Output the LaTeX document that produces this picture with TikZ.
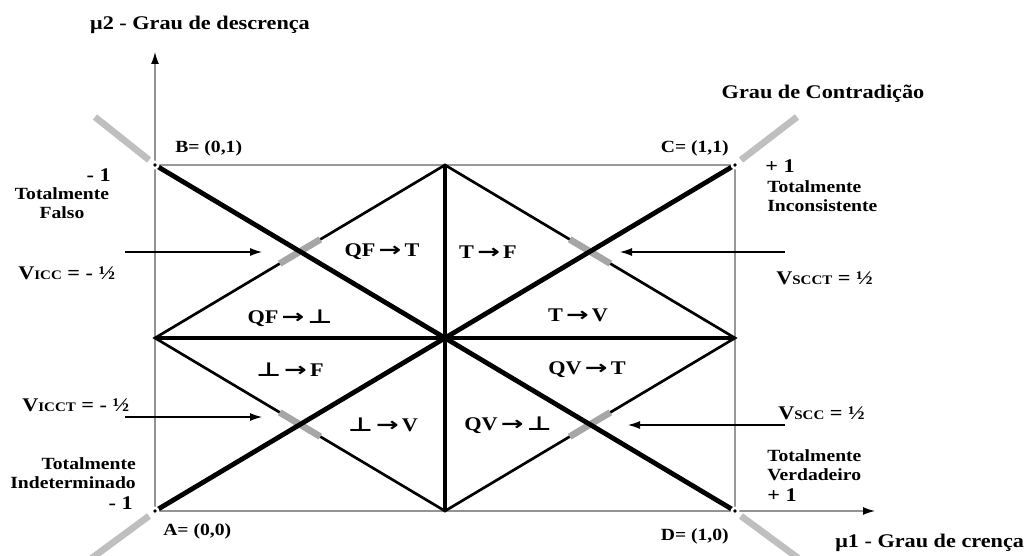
\documentclass[tikz,border=0pt]{standalone}
\usepackage{fontspec}
\setmainfont{Liberation Serif}[FakeStretch=1.15]
\newfontfamily\symf{DejaVu Sans}[FakeStretch=1.4]
\usetikzlibrary{arrows.meta,calc}
\newcommand{\tto}{{\symf\,→\,}}
\newcommand{\tbot}{{\symf ⊥}}
\newcommand{\vlab}[1]{V{\fontsize{9.8}{11}\selectfont #1}}

\begin{document}
\begin{tikzpicture}[x=0.75pt, y=-0.75pt,
    every node/.style={font=\bfseries\fontsize{12.8}{14.5}\selectfont, inner sep=0pt},
    big/.style={font=\bfseries\fontsize{14.5}{16}\selectfont},
    axis/.style={gray!85, line width=1pt, -{Latex[black,length=9pt,width=6pt]}},
    frame/.style={gray!80, line width=0.9pt},
    edge/.style={line width=2pt},
    mid/.style={line width=2.4pt},
    diag/.style={line width=3.6pt},
    greymark/.style={gray!70, line width=5pt},
    ext/.style={gray!50, line width=5pt},
    pointer/.style={line width=0.8pt, -{Latex[length=9pt,width=6pt]}}]
    \useasboundingbox (0,0) rectangle (1031,556);
    % Corners of the square
    \coordinate (A) at (155,511);
    \coordinate (B) at (155,165);
    \coordinate (C) at (735,165);
    \coordinate (D) at (735,511);
    % Diamond vertices and centre
    \coordinate (O) at (445,338);
    \coordinate (L) at (155,338);
    \coordinate (T) at (445,165);
    \coordinate (R) at (735,338);
    \coordinate (Bt) at (445,511);
    % Axes
    \coordinate (yend) at (155,52);
    \coordinate (xend) at (875,511);
    \draw[axis] (A) -- (yend);
    \draw[axis] (A) -- (xend);
    \draw[frame] (B) -- (C) -- (D);
    % Grey extensions at the corners
    \coordinate (Aout) at (92,558);
    \coordinate (Bout) at (95,117);
    \coordinate (Cout) at (797,117);
    \coordinate (Dout) at (798,558);
    \draw[ext] ($(A)+(-6,5)$) -- (Aout);
    \draw[ext] ($(B)+(-6,-5)$) -- (Bout);
    \draw[ext] ($(C)+(6,-5)$) -- (Cout);
    \draw[ext] ($(D)+(6,5)$) -- (Dout);
    % Diamond
    \draw[edge, line join=miter] (L) -- (T) -- (R) -- (Bt) -- cycle;
    \draw[mid] (L) -- (R);
    \draw[mid] (T) -- (Bt);
    % Grey marks on the diamond edges
    \foreach \p/\q in {L/T, T/R, L/Bt, Bt/R}
        \draw[greymark] ($(\p)!0.43!(\q)$) -- ($(\p)!0.57!(\q)$);
    % Diagonals
    \draw[diag] (A) -- (C);
    \draw[diag] (B) -- (D);
    % Corner dots
    \foreach \c in {A,B,C,D} {
        \fill[white] (\c) circle (4.5);
        \fill (\c) circle (1.8);
    }
    % Pointers
    \coordinate (p1s) at (125,252); \coordinate (p1e) at (262,252);
    \coordinate (p2s) at (125,417); \coordinate (p2e) at (262,417);
    \coordinate (p3s) at (785,252); \coordinate (p3e) at (620,252);
    \coordinate (p4s) at (785,425); \coordinate (p4e) at (628,425);
    \foreach \i in {1,...,4}
        \draw[pointer] (p\i s) -- (p\i e);
    % Axis titles
    \node[big] (tmu2) at (200,25) {μ2 - Grau de descrença};
    \node[big] (tcon) at (823,94) {Grau de Contradição};
    \node[big, anchor=west] (tmu1) at (835,543) {μ1 - Grau de crença};
    % Corner labels
    \node[anchor=west] (lB) at (175,148) {B= (0,1)};
    \node[anchor=east] (lC) at (729,148) {C= (1,1)};
    \node[anchor=west] (lA) at (163,531) {A= (0,0)};
    \node[anchor=east] (lD) at (729,536) {D= (1,0)};
    % Extreme states
    \node[big, anchor=east] (mFa) at (111,175) {- 1};
    \node[align=center] (tFa) at (62,203) {Totalmente\\Falso};
    \node[big, anchor=west] (pIn) at (765,166) {+ 1};
    \node[align=left, anchor=west] (tIn) at (767,196) {Totalmente\\Inconsistente};
    \node[align=right, anchor=east] (tId) at (136,473) {Totalmente\\Indeterminado};
    \node[big, anchor=east] (mId) at (133,503) {- 1};
    \node[align=left, anchor=west] (tVe) at (767,465) {Totalmente\\Verdadeiro};
    \node[big, anchor=west] (pVe) at (767,495) {+ 1};
    % Limit values
    \node[big, anchor=west] (vicc) at (18,273) {\vlab{ICC} = - ½};
    \node[big, anchor=west] (vicct) at (22,405) {\vlab{ICCT} = - ½};
    \node[big, anchor=west] (vscct) at (776,278) {\vlab{SCCT} = ½};
    \node[big, anchor=west] (vscc) at (778,413) {\vlab{SCC} = ½};
    % Regions
    \node[big] (r1) at (382,252) {QF\tto T};
    \node[big] (r2) at (488,252) {T\tto F};
    \node[big] (r3) at (290,318) {QF\tto\tbot};
    \node[big] (r4) at (578,315) {T\tto V};
    \node[big] (r5) at (290,370) {\tbot\tto F};
    \node[big] (r6) at (587,370) {QV\tto T};
    \node[big] (r7) at (383,425) {\tbot\tto V};
    \node[big] (r8) at (508,425) {QV\tto\tbot};
\end{tikzpicture}
\end{document}
